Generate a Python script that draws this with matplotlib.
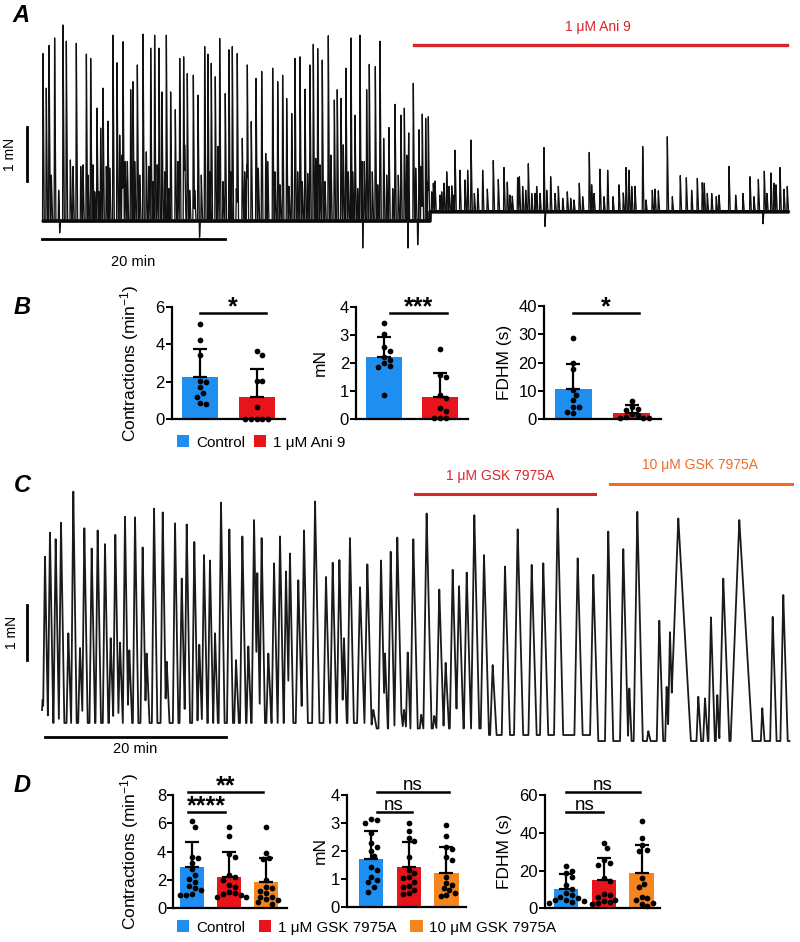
import numpy as np
import matplotlib
matplotlib.use('Agg')
import matplotlib.pyplot as plt
from matplotlib.patches import Patch

plt.rcParams['font.family'] = ['Liberation Sans', 'DejaVu Sans']
plt.rcParams['mathtext.fontset'] = 'custom'
plt.rcParams['mathtext.rm'] = 'Liberation Sans'
plt.rcParams['mathtext.it'] = 'Liberation Sans:italic'

# ------------------------
# trace A : peaks (min, mN)
# ------------------------
A_major_t = [0.11, 0.47, 0.77, 1.38, 1.82, 2.30, 2.66, 3.10, 3.75, 4.23, 4.85, 5.32, 5.57, 6.01,
             6.41, 6.67, 7.21, 7.76, 8.20, 8.49, 8.85, 9.33, 9.69, 9.95, 10.42, 11.04, 11.40,
             11.88, 12.31, 12.79, 13.11, 13.59, 14.06, 14.57, 15.05, 15.48, 15.88, 16.54, 17.05,
             17.78, 18.14, 18.50, 18.94, 19.42, 20.03, 20.44, 20.80, 21.34, 21.89, 22.44, 22.87,
             23.39, 24.01, 24.45, 24.66, 25.21, 25.76, 26.30, 26.74, 27.29, 27.65, 28.20, 28.74,
             29.29, 29.65, 30.13, 30.63, 31.29, 31.95, 32.27, 32.68, 33.22, 33.77, 34.21, 34.75,
             35.22, 35.48, 35.77, 36.43, 36.94, 37.34, 37.92, 38.58, 38.94, 39.23, 39.60, 40.03,
             40.58, 41.20, 41.56, 41.93, 42.22, 42.59, 42.95, 43.50, 43.93, 44.23, 44.78]
A_major_h = [3.10, 2.46, 3.25, 3.39, 0.57, 3.63, 3.33, 1.13, 3.29, 1.01, 3.09, 3.01, 1.04, 2.09,
             1.72, 2.46, 1.85, 3.44, 2.93, 1.59, 3.32, 1.10, 2.43, 2.58, 2.89, 3.46, 1.28,
             3.20, 3.44, 3.20, 2.39, 3.44, 2.39, 2.06, 3.01, 3.04, 2.73, 2.70, 2.33,
             3.23, 3.09, 2.92, 2.67, 3.38, 2.36, 3.17, 3.23, 3.10, 1.53, 2.89, 1.84,
             2.64, 2.77, 1.25, 1.10, 2.83, 2.58, 2.70, 2.27, 1.99, 3.01, 3.04, 2.44,
             2.89, 3.27, 3.19, 2.98, 3.43, 2.24, 2.43, 2.27, 2.83, 3.39, 1.96, 3.44,
             1.10, 2.43, 2.90, 2.86, 3.33, 1.53, 1.73, 2.16, 0.85, 1.96, 2.09, 2.65,
             2.55, 1.69, 1.98, 1.90, 1.93, 0.54, 0.74, 0.48, 0.70, 0.91, 0.65]
A_minor_t = [1.02, 3.39, 4.48, 5.03, 5.76, 6.23, 7.03, 7.40, 8.74, 9.11, 10.13, 10.68, 11.69,
             12.13, 12.60, 13.41, 13.85, 14.86, 15.59, 16.14, 16.69, 17.41, 18.32, 19.23, 19.78,
             20.62, 21.24, 22.15, 22.37, 23.64, 25.46, 26.01, 27.00, 27.94, 28.45, 29.04, 29.91,
             30.38, 30.93, 31.58, 32.93, 33.48, 33.95, 34.50, 35.00, 36.10, 36.69, 37.67, 38.33,
             39.86, 40.84, 41.42, 42.15, 42.77, 43.68, 44.48, 44.95]
A_minor_h = [0.85, 1.01, 1.04, 0.85, 0.54, 0.54, 1.01, 0.98, 1.22, 1.10, 1.10, 0.85, 1.01,
             0.73, 1.04, 0.91, 0.60, 1.10, 1.41, 0.57, 0.57, 0.85, 0.91, 1.38, 0.73,
             0.91, 0.60, 0.91, 1.04, 0.98, 0.91, 0.67, 0.64, 0.91, 0.73, 0.88, 1.16,
             1.04, 0.73, 1.22, 1.41, 0.91, 0.91, 0.60, 1.10, 0.91, 0.67, 0.85, 0.60,
             1.22, 0.98, 1.01, 0.73, 0.70, 0.54, 0.64, 0.48]
A_ani_t = [45.14, 45.68, 46.23, 46.52, 46.89, 47.25, 47.62, 48.16, 48.67, 49.32, 49.87, 50.49,
           50.85, 51.15, 51.40, 51.98, 52.17, 52.53, 52.86, 53.15, 53.52, 53.88, 54.06, 54.43,
           54.86, 55.16, 55.59, 56.07, 56.43, 56.91, 57.41, 57.78, 58.14, 58.72, 59.09, 59.81,
           60.07, 60.33, 60.98, 61.42, 61.82, 62.40, 63.06, 63.53, 63.83, 64.15, 64.45, 64.81,
           65.65, 66.01, 66.70, 66.99, 67.36, 68.34, 68.89, 69.76, 70.42, 71.00, 71.62, 72.16,
           72.38, 72.71, 73.19, 73.69, 73.99, 75.08, 75.81, 76.61, 77.38, 77.81, 78.29, 78.94,
           79.23, 79.67, 80.00, 80.22, 80.66, 81.09, 81.45]
A_ani_h = [1.31, 0.94, 0.76, 0.94, 1.50, 0.51, 0.60, 0.94, 0.59, 1.12, 0.77, 0.99,
           0.72, 0.48, 0.46, 0.80, 0.82, 0.64, 0.57, 1.06, 0.51, 0.51, 0.64, 0.51,
           1.36, 0.57, 0.82, 0.51, 0.64, 0.42, 0.54, 0.42, 0.39, 0.70, 0.45, 1.27,
           0.67, 0.51, 0.96, 0.45, 0.94, 0.45, 0.67, 0.52, 0.99, 0.94, 0.64, 0.64,
           1.38, 0.39, 0.57, 0.59, 0.56, 1.56, 0.45, 0.84, 0.80, 0.57, 0.79, 0.71,
           0.70, 0.51, 0.51, 0.45, 0.48, 1.01, 0.48, 0.51, 0.82, 0.45, 0.77, 0.92,
           0.51, 0.89, 0.70, 0.67, 0.99, 0.59, 0.64]
A_dip_t = [1.93, 17.22, 35.05, 40.00, 41.06, 54.97, 78.80]
A_dip_h = [-0.22, -0.30, -0.50, -0.50, -0.44, -0.10, -0.05]
A_ani_start = 42.4      # min, where baseline steps
A_ani_base = 0.17       # mN
A_end = 81.7

# ------------------------
# trace C : peaks (min, mN, duration min)
# ------------------------
C_t = [0.07, 0.33, 0.88, 1.51, 2.10, 2.91, 3.46, 4.20, 4.68, 5.49, 6.15, 6.96, 7.59, 8.10,
       8.62, 9.17, 9.65, 10.28, 11.12, 11.57, 12.38, 13.34, 13.78, 14.70, 15.44, 15.99,
       16.83, 17.38, 17.90, 18.56, 19.12, 19.78, 20.70, 21.44, 22.14, 22.80, 23.43, 23.79,
       24.27, 25.01, 25.64, 26.30, 26.96, 27.40, 28.32, 28.95, 30.17, 31.38, 32.12, 32.86,
       33.37, 34.03, 35.14, 35.95, 36.61, 37.46, 37.90, 38.53, 39.26, 39.70, 40.00, 40.41,
       41.03, 41.90, 42.50, 43.35, 43.90, 44.60, 45.38, 46.08, 46.93, 47.77, 48.84, 49.80,
       51.16, 52.56, 54.11, 55.39, 56.98, 59.19, 60.92, 62.57, 64.23, 64.90, 65.78, 67.00,
       68.21, 69.02, 69.39, 70.31, 72.52, 73.26, 73.92, 74.62, 75.28, 77.05, 79.59, 80.74,
       81.91]
C_h = [0.42, 3.04, 3.48, 3.36, 3.66, 1.64, 4.23, 1.37, 3.56, 3.19, 3.52, 3.27, 1.55, 3.44,
       1.47, 3.77, 1.33, 3.76, 3.21, 1.27, 3.92, 3.85, 1.12, 3.65, 2.64, 3.63,
       3.31, 1.43, 3.07, 2.97, 1.64, 4.03, 3.54, 1.15, 3.41, 1.40, 3.71, 2.74,
       3.38, 1.27, 2.92, 3.41, 2.77, 3.10, 2.61, 3.52, 4.05, 2.67, 2.93, 2.98,
       1.55, 3.38, 2.48, 2.90, 0.24, 2.97, 1.27, 3.13, 3.39, 0.21, 0.24, 1.29,
       3.36, 0.15, 3.83, 0.13, 2.44, 1.10, 2.80, 2.50, 2.75, 3.80, 3.07, 1.06,
       2.86, 3.54, 2.89, 2.92, 3.92, 3.01, 2.71, 3.50, 3.18, 0.63, 3.86, -0.15,
       1.87, 0.66, 1.66, 3.74, 0.48, 0.45, 1.93, 0.51, 2.64, 3.71, 0.27, 1.94,
       2.34]
C_dur = [0.40, 0.55, 0.60, 0.60, 0.60, 0.50, 0.60, 0.50, 0.60, 0.60, 0.60, 0.60, 0.50, 0.60,
         0.50, 0.60, 0.50, 0.60, 0.60, 0.50, 0.60, 0.60, 0.50, 0.60, 0.60, 0.60,
         0.60, 0.50, 0.60, 0.60, 0.50, 0.65, 0.65, 0.50, 0.65, 0.50, 0.65, 0.50,
         0.60, 0.55, 0.65, 0.65, 0.60, 0.60, 0.70, 0.70, 0.80, 0.70, 0.70, 0.70,
         0.50, 0.70, 0.80, 0.80, 0.60, 0.70, 0.50, 0.70, 0.80, 0.30, 0.40, 0.50,
         0.80, 0.40, 0.90, 0.40, 0.80, 0.60, 0.80, 0.80, 0.80, 0.90, 0.90, 0.70,
         0.90, 1.00, 0.90, 0.90, 1.00, 0.90, 0.90, 0.90, 0.90, 0.40, 1.00, 0.40,
         0.70, 0.40, 0.60, 2.30, 0.50, 0.50, 0.70, 0.40, 1.10, 2.40, 0.40, 0.70,
         0.80]
# baseline drift, changing at the tops of contractions
C_base_t = [0.0, 35.95, 48.84, 60.92]
C_base_v = [0.0, -0.10, -0.22, -0.33]
C_end = 82.6

# ------------------------
# bar panels
# ------------------------
B_groups = ['Control', '1 \u03bcM Ani 9']
B_contr_mean = [2.27, 1.20]
B_contr_sd = [1.48, 1.46]
B_contr_pts = [[5.06, 4.23, 3.43, 2.06, 2.00, 1.71, 1.42, 1.17, 0.89, 0.82],
               [3.64, 3.43, 2.04, 2.04, 0.64, 0.02, 0.02, 0.02, 0.02, 0.02]]
B_mn_mean = [2.20, 0.80]
B_mn_sd = [0.71, 0.83]
B_mn_pts = [[3.41, 3.03, 2.56, 2.44, 2.22, 2.11, 1.89, 1.85, 0.86, 2.00],
            [2.50, 1.57, 1.49, 0.86, 0.75, 0.41, 0.30, 0.03, 0.03, 0.03]]
B_fdhm_mean = [10.6, 2.1]
B_fdhm_sd = [8.9, 2.9]
B_fdhm_pts = [[28.6, 20.0, 17.7, 10.4, 8.6, 6.8, 4.2, 4.2, 2.7, 2.1],
              [6.5, 4.3, 3.8, 3.2, 2.0, 1.5, 0.8, 0.6, 0.5, 0.3]]

D_groups = ['Control', '1 \u03bcM GSK 7975A', '10 \u03bcM GSK 7975A']
D_contr_mean = [2.94, 2.19, 1.84]
D_contr_sd = [1.72, 1.76, 1.73]
D_contr_pts = [[6.16, 5.76, 3.60, 3.53, 3.18, 2.75, 2.35, 2.05, 1.88, 1.57, 1.41, 1.29, 1.01, 0.94, 0.94],
               [5.76, 5.10, 3.83, 3.60, 2.35, 2.19, 2.00, 1.65, 1.53, 1.17, 1.06, 0.99, 0.94, 0.82, 0.78],
               [5.76, 3.93, 3.53, 3.46, 2.00, 1.53, 1.41, 1.24, 1.06, 0.82, 0.82, 0.65, 0.60, 0.42, 0.33]]
D_mn_mean = [1.71, 1.41, 1.22]
D_mn_sd = [1.00, 0.92, 0.91]
D_mn_pts = [[3.13, 3.10, 3.00, 2.63, 2.29, 2.12, 2.00, 1.82, 1.43, 1.30, 1.07, 0.97, 0.87, 0.70, 0.53],
            [3.01, 2.72, 2.45, 2.37, 1.79, 1.31, 1.22, 1.07, 1.02, 0.90, 0.75, 0.70, 0.60, 0.50, 0.47],
            [2.93, 2.53, 2.13, 2.05, 1.79, 1.67, 1.07, 0.84, 0.78, 0.66, 0.60, 0.50, 0.42, 0.38]]
D_fdhm_mean = [10.1, 15.0, 18.5]
D_fdhm_sd = [7.9, 11.5, 15.0]
D_fdhm_pts = [[22.4, 19.8, 18.8, 16.4, 12.5, 10.0, 8.0, 6.8, 6.0, 5.2, 4.6, 4.2, 3.9, 3.5, 3.0],
              [34.7, 32.0, 25.4, 24.2, 22.8, 16.3, 14.5, 7.6, 6.8, 6.0, 4.6, 4.0, 3.5, 2.6, 2.2],
              [46.4, 37.1, 33.5, 31.0, 30.6, 15.8, 12.8, 11.1, 6.0, 5.2, 4.2, 3.0, 2.3, 1.2]]

BLUE, RED, ORANGE = '#1f8ef1', '#e8141b', '#f7851f'

# ------------------------
W, H = 800, 942
fig = plt.figure(figsize=(W / 100, H / 100), dpi=100)


def px_axes(x0, y0, x1, y1):
    return fig.add_axes([x0 / W, 1 - y1 / H, (x1 - x0) / W, (y1 - y0) / H])


def trace(grid, base, times, levels, rise, fall, lower=False):
    y = base.copy()
    for t, h, r, f in zip(times, levels, rise, fall):
        m = (grid > t - r) & (grid < t + f)
        g = grid[m]
        shape = np.where(g <= t, (g - (t - r)) / r, ((t + f) - g) / f)
        val = base[m] + (h - base[m]) * shape
        y[m] = np.minimum(y[m], val) if lower else np.maximum(y[m], val)
    return y


def swarm(vals, ppx, ppy, d=5.8):
    vals = np.asarray(vals, float)
    offs = np.zeros(len(vals))
    placed = []
    cands = [0.0]
    for k in range(1, 14):
        cands += [k * d * 0.5, -k * d * 0.5]
    for i in np.argsort(vals)[::-1]:
        y = vals[i] * ppy
        for c in cands:
            if all((c - px) ** 2 + (y - py) ** 2 >= d * d for px, py in placed):
                break
        placed.append((c, y))
        offs[i] = c / ppx
    return offs


# ---------------- panel A trace ----------------
axA = px_axes(0, 0, 800, 270)
axA.set_xlim(-42 / 9.15, 758 / 9.15)
axA.set_ylim(-49 / 54, 221 / 54)
axA.axis('off')

tA = np.arange(0, A_end, 0.005)
baseA = np.where(tA < A_ani_start, 0.0, A_ani_base)
pk_t = A_major_t + A_minor_t + A_ani_t
pk_h = A_major_h + A_minor_h + A_ani_h
yA = trace(tA, baseA, pk_t, pk_h, [0.05] * len(pk_t), [0.13] * len(pk_t))
yA = trace(tA, yA, A_dip_t, A_dip_h, [0.04] * len(A_dip_t), [0.08] * len(A_dip_t), lower=True)
axA.plot(tA, baseA, color='black', lw=2.6, solid_capstyle='butt')
axA.plot(tA, yA, color='#111111', lw=0.95)

axA.plot([-1.64, -1.64], [0.74, 1.74], color='black', lw=2.0, clip_on=False)
axA.text(-3.45, 1.24, '1 mN', rotation=90, ha='center', va='center', fontsize=10)
axA.plot([0, 20], [-0.33, -0.33], color='black', lw=2.0)
axA.text(10, -0.76, '20 min', ha='center', va='center', fontsize=10.5)
axA.plot([40.66, 81.4], [3.26, 3.26], color='#d7262b', lw=2.4)
axA.text(60.8, 3.6, '1 \u03bcM Ani 9', color='#d7262b', ha='center', va='center', fontsize=10)

# ---------------- panel C trace ----------------
axC = px_axes(0, 455, 800, 770)
axC.set_xlim(-42 / 9.05, 758 / 9.05)
axC.set_ylim(-47 / 54.7, 268 / 54.7)
axC.axis('off')

tC = np.arange(0, C_end, 0.005)
baseC = np.array(C_base_v)[np.searchsorted(C_base_t, tC, side='right') - 1]
c_dur = np.array(C_dur)
yC = trace(tC, baseC, C_t, C_h, 0.4 * c_dur, 0.6 * c_dur)
axC.plot(tC, yC, color='#1a1a1a', lw=1.3)

axC.plot([-1.66, -1.66], [1.15, 2.15], color='black', lw=2.0, clip_on=False)
axC.text(-3.35, 1.65, '1 mN', rotation=90, ha='center', va='center', fontsize=10)
axC.plot([0.33, 20.33], [-0.26, -0.26], color='black', lw=2.0)
axC.text(10.3, -0.47, '20 min', ha='center', va='center', fontsize=10.5)
axC.plot([41.2, 61.1], [4.19, 4.19], color='#d7262b', lw=2.2)
axC.text(50.6, 4.52, '1 \u03bcM GSK 7975A', color='#d7262b', ha='center', va='center', fontsize=10)
axC.plot([62.8, 82.9], [4.37, 4.37], color='#f26a24', lw=2.2, clip_on=False)
axC.text(72.7, 4.72, '10 \u03bcM GSK 7975A', color='#f26a24', ha='center', va='center', fontsize=10)


# ---------------- bar panels ----------------
def bar_panel(rect, xlim, ylim, yticks, means, sds, pts, colors, ylabel, lab_px, sig):
    x0, y0, x1, y1 = rect
    ax = px_axes(*rect)
    n = len(means)
    xs = np.arange(n)
    ax.bar(xs, means, width=0.64, color=colors, zorder=1)
    ax.errorbar(xs, means, yerr=[np.zeros(n), sds], fmt='none', ecolor='black',
                elinewidth=1.6, capsize=5, capthick=1.6, zorder=2)
    ppx = (x1 - x0) / (xlim[1] - xlim[0])
    ppy = (y1 - y0) / (ylim[1] - ylim[0])
    for i, vals in enumerate(pts):
        off = swarm(vals, ppx, ppy)
        ax.scatter(i + off, vals, s=17, color='black', zorder=3, clip_on=False, linewidths=0)
    ax.set_xlim(*xlim)
    ax.set_ylim(*ylim)
    ax.set_yticks(yticks)
    ax.set_xticks([])
    for s in ['top', 'right']:
        ax.spines[s].set_visible(False)
    for s in ['left', 'bottom']:
        ax.spines[s].set_linewidth(1.6)
    ax.tick_params(axis='y', length=4, width=1.4, labelsize=12, pad=1)
    ax.set_ylabel(ylabel, fontsize=12.5)
    ax.yaxis.set_label_coords((lab_px - x0) / (x1 - x0), 0.5)
    for (a, b, yv, txt) in sig:
        ax.plot([a, b], [yv, yv], color='black', lw=1.8, clip_on=False)
        if txt == 'ns':
            ax.annotate(txt, ((a + b) / 2, yv), xytext=(0, 1.5), textcoords='offset points',
                        ha='center', va='baseline', fontsize=13.5, annotation_clip=False)
        else:
            ax.annotate(txt, ((a + b) / 2, yv), xytext=(0, -1.0), textcoords='offset points',
                        ha='center', va='baseline', fontsize=18, fontweight='bold',
                        annotation_clip=False)
    return ax


cols2 = [BLUE, RED]
cols3 = [BLUE, RED, ORANGE]
contr_label = 'Contractions (min$^{\\mathregular{-1}}$)'

bar_panel((171.7, 306.7, 285, 419.3), (-0.5, 1.5), (0, 6), [0, 2, 4, 6],
          B_contr_mean, B_contr_sd, B_contr_pts, cols2, contr_label, 141,
          [(0.0, 1.16, 5.65, '*')])
bar_panel((356, 306.7, 468, 419.3), (-0.5, 1.5), (0, 4), [0, 1, 2, 3, 4],
          B_mn_mean, B_mn_sd, B_mn_pts, cols2, 'mN', 328,
          [(0.1, 1.12, 3.77, '***')])
bar_panel((544, 306, 661, 419.3), (-0.5, 1.5), (0, 40), [0, 10, 20, 30, 40],
          B_fdhm_mean, B_fdhm_sd, B_fdhm_pts, cols2, 'FDHM (s)', 512,
          [(0.0, 1.12, 37.4, '*')])

bar_panel((173.3, 795, 286.7, 908.3), (-0.5, 2.55), (0, 8), [0, 2, 4, 6, 8],
          D_contr_mean, D_contr_sd, D_contr_pts, cols3, contr_label, 141,
          [(-0.1, 1.9, 8.23, '**'), (-0.1, 0.9, 6.82, '****')])
bar_panel((346.7, 795, 465.7, 906.7), (-0.64, 2.51), (0, 4), [0, 1, 2, 3, 4],
          D_mn_mean, D_mn_sd, D_mn_pts, cols3, 'mN', 328,
          [(0.15, 2.07, 4.12, 'ns'), (0.15, 1.08, 3.40, 'ns')])
bar_panel((545, 795, 660, 908.3), (-0.56, 2.49), (0, 60), [0, 20, 40, 60],
          D_fdhm_mean, D_fdhm_sd, D_fdhm_pts, cols3, 'FDHM (s)', 512,
          [(0.0, 1.95, 61.7, 'ns'), (0.0, 0.97, 51.1, 'ns')])

# legends
fig.legend([Patch(facecolor=c, edgecolor='none') for c in cols2], B_groups,
           loc='center left', bbox_to_anchor=(177 / W, 1 - 442.5 / H), ncol=2,
           frameon=False, fontsize=11, handlelength=0.8, handleheight=0.8,
           handletextpad=0.45, columnspacing=0.6, borderpad=0, borderaxespad=0)
fig.legend([Patch(facecolor=c, edgecolor='none') for c in cols3], D_groups,
           loc='center left', bbox_to_anchor=(177 / W, 1 - 927.5 / H), ncol=3,
           frameon=False, fontsize=11, handlelength=0.8, handleheight=0.8,
           handletextpad=0.45, columnspacing=0.9, borderpad=0, borderaxespad=0)

# panel letters
for letter, (lx, ly) in zip('ABCD', [(21, 15), (22, 307), (22, 485), (22, 785)]):
    fig.text(lx / W, 1 - ly / H, letter, ha='center', va='center', fontsize=17,
             fontweight='bold', fontstyle='italic')

fig.savefig('out.png', dpi=100)
